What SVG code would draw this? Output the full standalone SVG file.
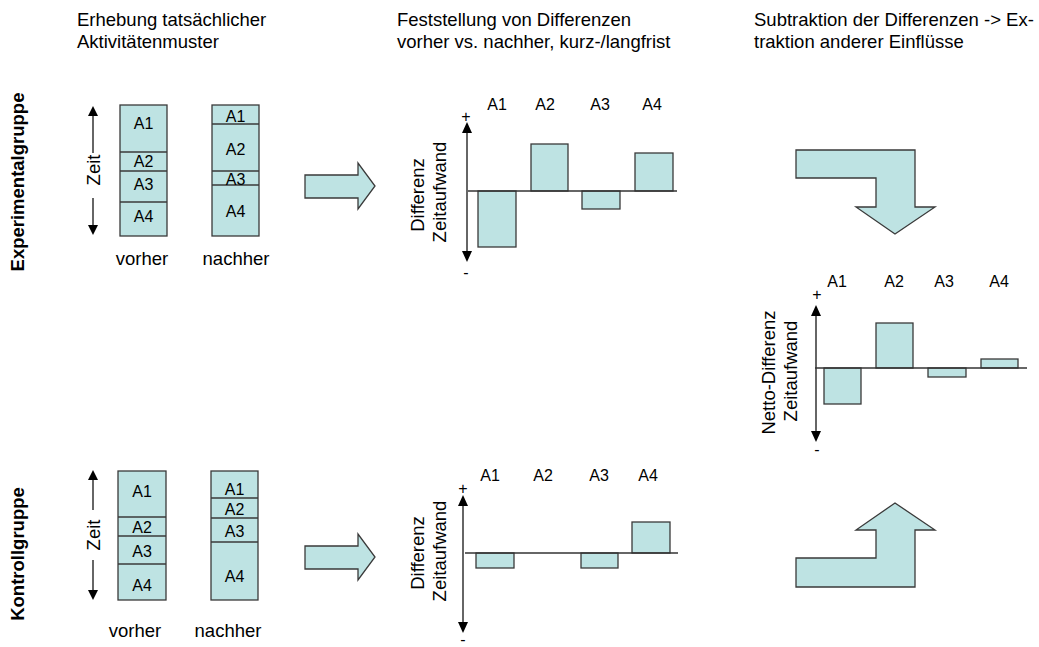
<svg xmlns="http://www.w3.org/2000/svg" width="1039" height="647" viewBox="0 0 1039 647">
<style>
text{font-family:"Liberation Sans",Arial,sans-serif;fill:#000}
.h{font-size:18.5px}
.b{font-size:18.5px;font-weight:bold}
.a{font-size:16px;text-anchor:middle}
.m{font-size:18.5px;text-anchor:middle}
.s{font-size:16px;text-anchor:middle}
.box{fill:#bee3e3;stroke:#3a3a3a;stroke-width:1.3}
.div{stroke:#3a3a3a;stroke-width:1.3}
.ax{stroke:#333;stroke-width:1.5;fill:none}
.hd{fill:#000}
</style>
<rect width="1039" height="647" fill="#fff"/>

<g id="headings">
<text class="h" x="77" y="26">Erhebung tatsächlicher</text>
<text class="h" x="77" y="48">Aktivitätenmuster</text>
<text class="h" x="397" y="26">Feststellung von Differenzen</text>
<text class="h" x="397" y="48">vorher vs. nachher, kurz-/langfrist</text>
<text class="h" x="754" y="26">Subtraktion der Differenzen -&gt; Ex-</text>
<text class="h" x="754" y="48">traktion anderer Einflüsse</text>
</g>

<g id="group-labels">
<text class="b" text-anchor="middle" transform="translate(24,182) rotate(-90)">Experimentalgruppe</text>
<text class="b" text-anchor="middle" transform="translate(24,554) rotate(-90)">Kontrollgruppe</text>
</g>

<g id="exp-zeit-axis">
<line class="ax" x1="93" y1="114" x2="93" y2="153"/>
<line class="ax" x1="93" y1="198" x2="93" y2="227"/>
<polygon class="hd" points="93,106 88,116 98,116"/>
<polygon class="hd" points="93,235 88,225 98,225"/>
<text class="m" transform="translate(100,170) rotate(-90)">Zeit</text>
</g>

<g id="exp-vorher">
<rect class="box" x="120" y="105" width="47" height="131"/>
<line class="div" x1="120" y1="152" x2="167" y2="152"/>
<line class="div" x1="120" y1="171" x2="167" y2="171"/>
<line class="div" x1="120" y1="202" x2="167" y2="202"/>
<text class="a" x="143.5" y="129">A1</text>
<text class="a" x="143.5" y="166.5">A2</text>
<text class="a" x="143.5" y="190">A3</text>
<text class="a" x="143.5" y="222">A4</text>
<text class="m" x="142" y="265">vorher</text>
</g>

<g id="exp-nachher">
<rect class="box" x="212" y="105" width="47" height="131"/>
<line class="div" x1="212" y1="124" x2="259" y2="124"/>
<line class="div" x1="212" y1="171" x2="259" y2="171"/>
<line class="div" x1="212" y1="185" x2="259" y2="185"/>
<text class="a" x="235.5" y="122">A1</text>
<text class="a" x="235.5" y="154.5">A2</text>
<text class="a" x="235.5" y="184.5">A3</text>
<text class="a" x="235.5" y="216.5">A4</text>
<text class="m" x="236" y="265">nachher</text>
</g>

<g id="kon-zeit-axis">
<line class="ax" x1="93" y1="478" x2="93" y2="510"/>
<line class="ax" x1="93" y1="560" x2="93" y2="592"/>
<polygon class="hd" points="93,470 88,480 98,480"/>
<polygon class="hd" points="93,600 88,590 98,590"/>
<text class="m" transform="translate(100,535) rotate(-90)">Zeit</text>
</g>

<g id="kon-vorher">
<rect class="box" x="118" y="471" width="48" height="129"/>
<line class="div" x1="118" y1="517" x2="166" y2="517"/>
<line class="div" x1="118" y1="536" x2="166" y2="536"/>
<line class="div" x1="118" y1="564" x2="166" y2="564"/>
<text class="a" x="142" y="496.5">A1</text>
<text class="a" x="142" y="533">A2</text>
<text class="a" x="142" y="557">A3</text>
<text class="a" x="142" y="590.5">A4</text>
<text class="m" x="135" y="636.5">vorher</text>
</g>

<g id="kon-nachher">
<rect class="box" x="211" y="471" width="47" height="129"/>
<line class="div" x1="211" y1="498" x2="258" y2="498"/>
<line class="div" x1="211" y1="518" x2="258" y2="518"/>
<line class="div" x1="211" y1="542" x2="258" y2="542"/>
<text class="a" x="234.5" y="495">A1</text>
<text class="a" x="234.5" y="514.5">A2</text>
<text class="a" x="234.5" y="536.5">A3</text>
<text class="a" x="234.5" y="581.5">A4</text>
<text class="m" x="228" y="636.5">nachher</text>
</g>

<g id="connectors">
<polygon class="box" points="305,175 358,175 358,163 375,186 358,209 358,198 305,198"/>
<polygon class="box" points="305,546 358,546 358,534 375,557 358,580 358,569 305,569"/>
<polygon class="box" points="796,150 915,150 915,207 935,207 895,234 856,207 876,207 876,178 796,178"/>
<polygon class="box" points="895,503 935,530 915,530 915,587 796,587 796,558 876,558 876,530 856,530"/>
</g>

<g id="exp-diff-chart">
<text class="a" x="497" y="110">A1</text>
<text class="a" x="545" y="110">A2</text>
<text class="a" x="600" y="110">A3</text>
<text class="a" x="652" y="110">A4</text>
<text class="s" x="466" y="121.5">+</text>
<text class="s" x="466" y="278">-</text>
<line class="ax" x1="467" y1="130" x2="467" y2="254"/>
<polygon class="hd" points="467,122 462,133 472,133"/>
<polygon class="hd" points="467,262 462,251 472,251"/>
<text class="m" transform="translate(424,195) rotate(-90)">Differenz</text>
<text class="m" transform="translate(446,192) rotate(-90)">Zeitaufwand</text>
<rect class="box" x="478" y="191" width="38" height="56"/>
<rect class="box" x="531" y="144" width="37" height="47"/>
<rect class="box" x="582" y="191" width="38" height="18"/>
<rect class="box" x="635" y="153" width="38" height="38"/>
<line class="ax" x1="468" y1="191" x2="677" y2="191"/>
</g>

<g id="kon-diff-chart">
<text class="a" x="490" y="481">A1</text>
<text class="a" x="543" y="481">A2</text>
<text class="a" x="599" y="481">A3</text>
<text class="a" x="648" y="481">A4</text>
<text class="s" x="463" y="493.5">+</text>
<text class="s" x="463" y="644.5">-</text>
<line class="ax" x1="463" y1="503" x2="463" y2="625"/>
<polygon class="hd" points="463,495 458,506 468,506"/>
<polygon class="hd" points="463,633 458,622 468,622"/>
<text class="m" transform="translate(424,553) rotate(-90)">Differenz</text>
<text class="m" transform="translate(446,551) rotate(-90)">Zeitaufwand</text>
<rect class="box" x="476" y="553" width="38" height="15"/>
<rect class="box" x="581" y="553" width="37" height="15"/>
<rect class="box" x="632" y="522" width="38" height="31"/>
<line class="ax" x1="465" y1="553" x2="678" y2="553"/>
</g>

<g id="netto-chart">
<text class="a" x="837" y="287">A1</text>
<text class="a" x="894" y="287">A2</text>
<text class="a" x="944" y="287">A3</text>
<text class="a" x="999" y="287">A4</text>
<text class="s" x="817" y="299.5">+</text>
<text class="s" x="817" y="455">-</text>
<line class="ax" x1="816" y1="313" x2="816" y2="434"/>
<polygon class="hd" points="816,305 811,316 821,316"/>
<polygon class="hd" points="816,442 811,431 821,431"/>
<text class="m" transform="translate(775,372.5) rotate(-90)">Netto-Differenz</text>
<text class="m" transform="translate(797,371) rotate(-90)">Zeitaufwand</text>
<rect class="box" x="824" y="368" width="37" height="36"/>
<rect class="box" x="876" y="323" width="37" height="45"/>
<rect class="box" x="928" y="368" width="38" height="9"/>
<rect class="box" x="981" y="359" width="37" height="9"/>
<line class="ax" x1="815" y1="368" x2="1027" y2="368"/>
</g>
</svg>
